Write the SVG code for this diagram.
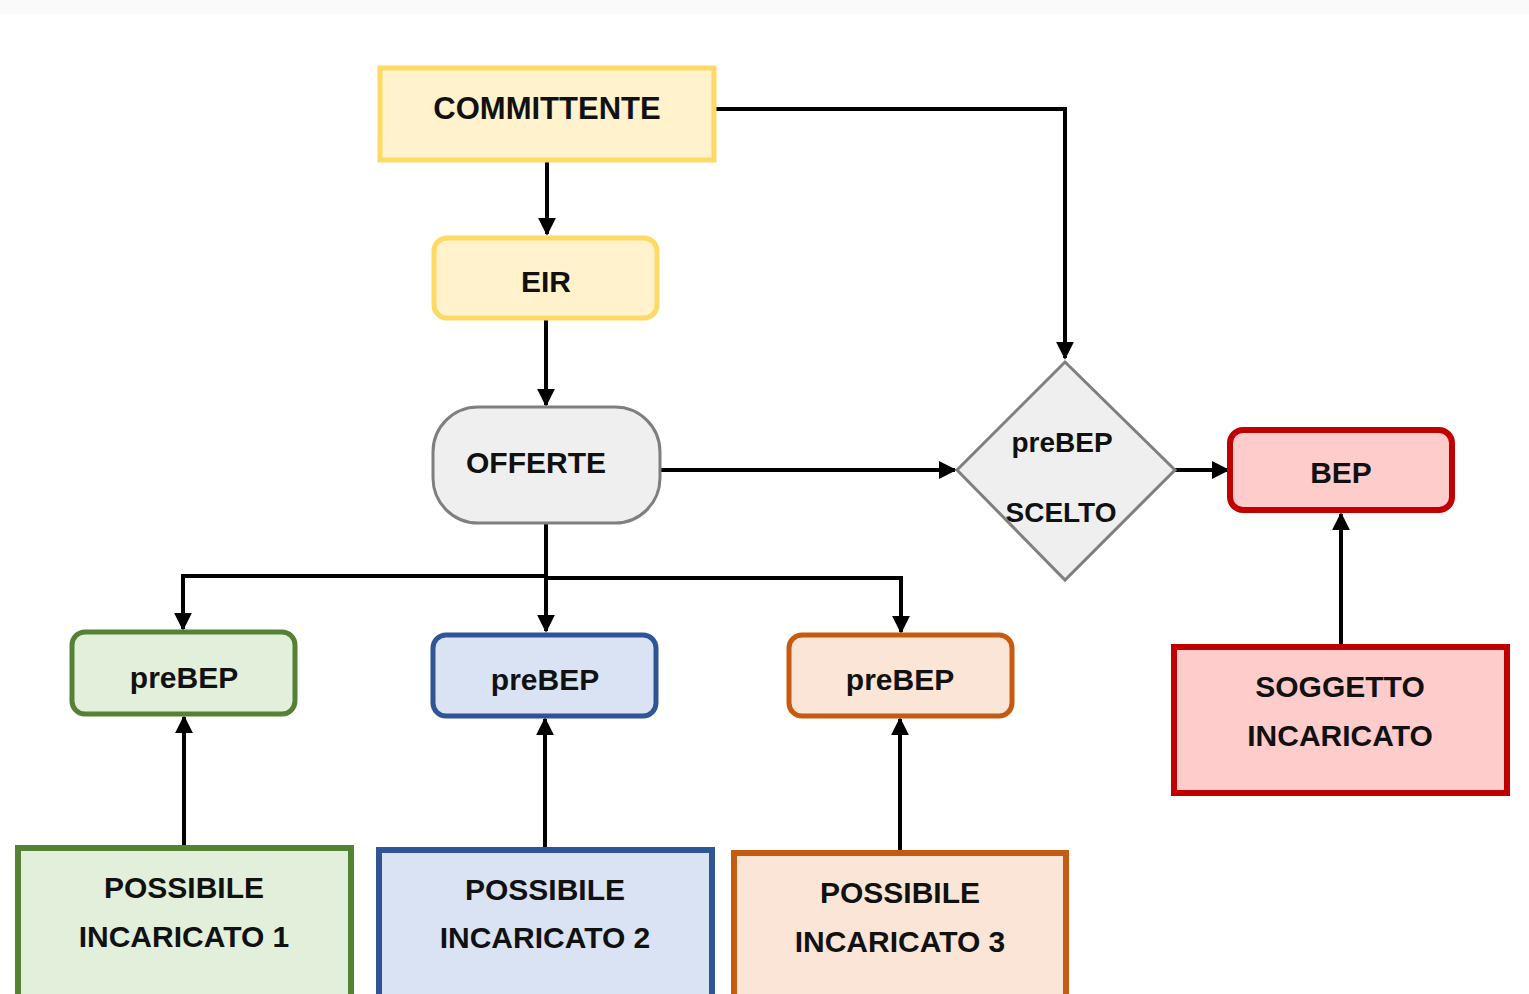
<svg xmlns="http://www.w3.org/2000/svg" width="1529" height="994" viewBox="0 0 1529 994">
<defs>
<marker id="ah" viewBox="0 0 10 10" refX="9" refY="5" markerWidth="4.5" markerHeight="4.5" orient="auto" markerUnits="strokeWidth">
<path d="M0,0 L10,5 L0,10 z" fill="#000"/>
</marker>
<style>
text{font-family:"Liberation Sans",Arial,sans-serif;font-weight:bold;font-size:30px;fill:#111;text-anchor:middle;dominant-baseline:central}
.con{fill:none;stroke:#000;stroke-width:4}
.arr{marker-end:url(#ah)}
.yel{fill:#FFF2CC;stroke:#FFD966;stroke-width:5}
.gry{fill:#EFEFEF;stroke:#7F7F7F;stroke-width:3}
.red{fill:#FFCCCC;stroke:#C00000;stroke-width:6}
.grn{fill:#E2EFDA;stroke:#548235;stroke-width:5}
.blu{fill:#DAE3F3;stroke:#2F5597;stroke-width:5}
.org{fill:#FBE5D6;stroke:#C55A11;stroke-width:5}
</style>
</defs>
<rect width="1529" height="994" fill="#fff"/>
<rect width="1529" height="14" fill="#fafafa"/>

<g id="connectors">
<path class="con arr" d="M547,160 V234"/>
<path class="con arr" d="M714,109 H1065 V358"/>
<path class="con arr" d="M546,318 V405"/>
<path class="con arr" d="M660,470 H955"/>
<path class="con arr" d="M1175,470 H1228"/>
<path class="con arr" d="M1341,646 V514"/>
<path class="con arr" d="M546,523 V631"/>
<path class="con arr" d="M546,576 H183 V629"/>
<path class="con arr" d="M546,578 H901 V632"/>
<path class="con arr" d="M184,847 V717"/>
<path class="con arr" d="M545,849 V719"/>
<path class="con arr" d="M900,852 V719"/>
</g>

<g id="committente">
<rect class="yel" x="380" y="68" width="334" height="92"/>
<text x="547" y="108" style="font-size:31px">COMMITTENTE</text>
</g>
<g id="eir">
<rect class="yel" x="434" y="238" width="223" height="80" rx="13"/>
<text x="546" y="281">EIR</text>
</g>
<g id="offerte">
<rect class="gry" x="433" y="407" width="227" height="116" rx="45"/>
<text x="536" y="462">OFFERTE</text>
</g>
<g id="prebep-scelto">
<polygon class="gry" points="1065,362 1175,470 1065,580 957,470"/>
<text x="1062" y="442" style="font-size:28px">preBEP</text>
<text x="1061" y="512" style="font-size:28px">SCELTO</text>
</g>
<g id="bep">
<rect class="red" x="1230" y="430" width="222" height="80" rx="13"/>
<text x="1341" y="472">BEP</text>
</g>
<g id="soggetto-incaricato">
<rect class="red" x="1174" y="647" width="333" height="146" fill="#FFD0D0"/>
<text x="1340" y="686">SOGGETTO</text>
<text x="1340" y="735">INCARICATO</text>
</g>
<g id="prebep-1">
<rect class="grn" x="72" y="632" width="223" height="82" rx="13"/>
<text x="184" y="677">preBEP</text>
</g>
<g id="prebep-2">
<rect class="blu" x="433" y="635" width="223" height="81" rx="13"/>
<text x="545" y="679">preBEP</text>
</g>
<g id="prebep-3">
<rect class="org" x="789" y="635" width="223" height="81" rx="13"/>
<text x="900" y="679">preBEP</text>
</g>
<g id="possibile-1">
<rect class="grn" x="18" y="848" width="333" height="160" style="stroke-width:6"/>
<text x="184" y="887">POSSIBILE</text>
<text x="184" y="936">INCARICATO 1</text>
</g>
<g id="possibile-2">
<rect class="blu" x="379" y="850" width="333" height="160" style="stroke-width:6"/>
<text x="545" y="889">POSSIBILE</text>
<text x="545" y="937">INCARICATO 2</text>
</g>
<g id="possibile-3">
<rect class="org" x="734" y="853" width="332" height="160" style="stroke-width:6"/>
<text x="900" y="892">POSSIBILE</text>
<text x="900" y="941">INCARICATO 3</text>
</g>
</svg>
